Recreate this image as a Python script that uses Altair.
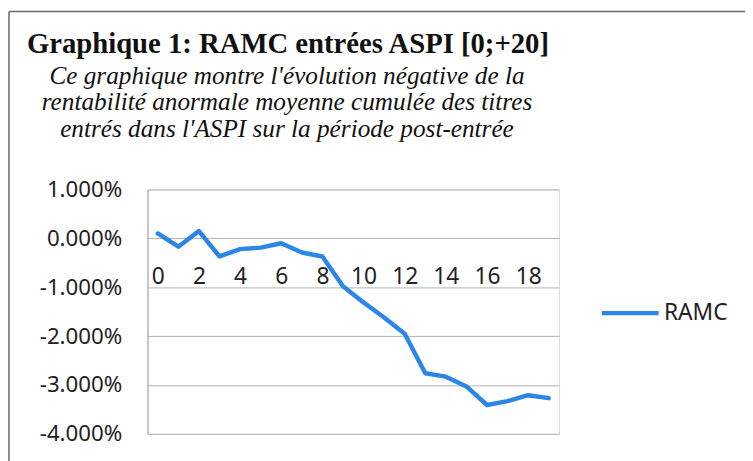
import altair as alt
import pandas as pd

days = list(range(20))
ramc = [0.10, -0.17, 0.15, -0.37, -0.22, -0.19, -0.10, -0.29, -0.37, -0.98,
        -1.31, -1.62, -1.95, -2.76, -2.83, -3.03, -3.41, -3.33, -3.21, -3.27]
series = ["RAMC"] * 20
y_ticks = [1, 0, -1, -2, -3, -4]
x_labels = [0, 2, 4, 6, 8, 10, 12, 14, 16, 18]

title_text = "Graphique 1: RAMC entrées ASPI [0;+20]"
subtitle_lines = [
    "Ce graphique montre l'évolution négative de la",
    "rentabilité anormale moyenne cumulée des titres",
    "entrés dans l'ASPI sur la période post-entrée",
]

df = pd.DataFrame({"jour": days, "ramc": ramc, "serie": series})

line = alt.Chart(df).mark_line(strokeWidth=4.5, strokeJoin="round", strokeCap="round").encode(
    x=alt.X("jour:O", scale=alt.Scale(padding=0.5),
            axis=alt.Axis(orient="top", values=x_labels, labelAngle=0, title=None,
                          domain=False, ticks=False, tickSize=0, labelPadding=0, offset=-100,
                          labelFont="Noto Sans", labelFontSize=23, labelColor="#222222",
                          labelBaseline="bottom", grid=False)),
    y=alt.Y("ramc:Q", scale=alt.Scale(domain=[-4, 1], nice=False),
            axis=alt.Axis(values=y_ticks, title=None, ticks=False, labelPadding=26,
                          domain=True, domainColor="#a0a0a0", domainWidth=1,
                          gridColor="#b4b0b4", gridWidth=1,
                          labelFont="Noto Sans", labelFontSize=22.5, labelColor="#222222",
                          labelExpr="(datum.value < 0 ? '-' : '') + format(abs(datum.value), '.3f') + '%'")),
    color=alt.Color("serie:N", scale=alt.Scale(range=["#2c86e8"]),
                    legend=alt.Legend(title=None, orient="none", legendX=457, legendY=94,
                                      symbolType="stroke", symbolSize=3300, symbolStrokeWidth=4.5,
                                      labelFont="Noto Sans", labelFontSize=23, labelColor="#222222",
                                      labelOffset=3)),
)

frame_df = pd.DataFrame({"a": [0]})
frame_left = alt.Chart(frame_df).mark_rule(color="#6a6a6a", strokeWidth=1.5).encode(
    x=alt.value(-140), y=alt.value(-180), y2=alt.value(280))
frame_top = alt.Chart(frame_df).mark_rule(color="#6a6a6a", strokeWidth=1.5).encode(
    x=alt.value(-140), x2=alt.value(620), y=alt.value(-180))

title_df = pd.DataFrame({"t": [title_text]})
title_mark = alt.Chart(title_df).mark_text(
    font="Liberation Serif", fontSize=29, fontWeight="bold", color="#111111",
    align="center", baseline="alphabetic").encode(
    text="t:N", x=alt.value(142), y=alt.value(-138))

sub_marks = [
    alt.Chart(pd.DataFrame({"s": [s]})).mark_text(
        font="Liberation Serif", fontSize=25.5, fontStyle="italic", color="#111111",
        align="center", baseline="alphabetic").encode(
        text="s:N", x=alt.value(141), y=alt.value(yv))
    for s, yv in zip(subtitle_lines, [-107, -80, -53])
]

chart = alt.layer(frame_left, frame_top, title_mark, *sub_marks, line).properties(
    width=416, height=247,
    autosize=alt.AutoSizeParams(type="none"),
    padding={"left": 141, "top": 181, "right": 188, "bottom": 25},
).configure_view(stroke=None).configure(background="white")

chart.save("out.html", embed_options={"renderer": "svg", "actions": False})
